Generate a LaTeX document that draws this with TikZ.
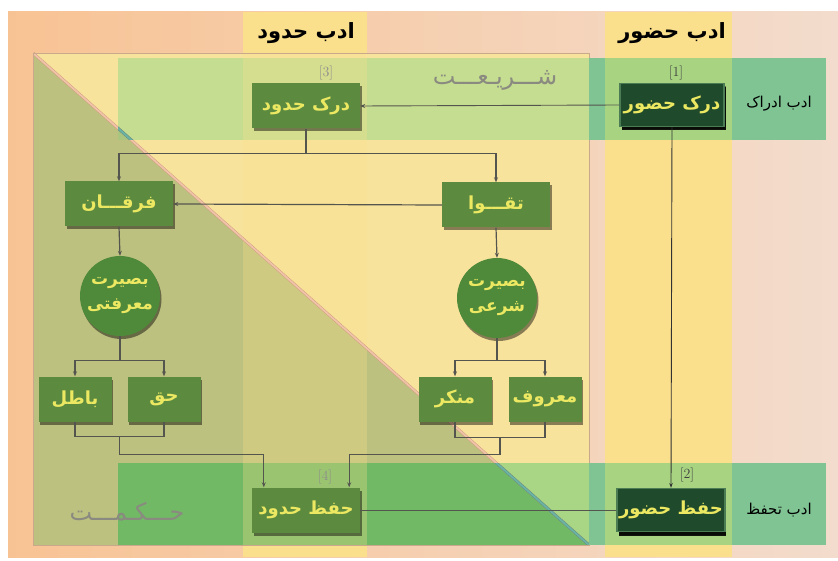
\documentclass[tikz,border=0pt]{standalone}
\usepackage{fontspec}
\newfontfamily\fa[Script=Arabic]{DejaVu Sans}
\TeXXeTstate=1
\usetikzlibrary{shadows,calc,arrows.meta}
\newcommand\pers[1]{{\fa\beginR#1\endR}}

\definecolor{peachL}{HTML}{F8C394}
\definecolor{peachR}{HTML}{F3DCCD}
\definecolor{colyel}{HTML}{FAE08C}
\definecolor{frameyel}{HTML}{F8E39C}
\definecolor{olive}{HTML}{BDC17F}
\definecolor{bandtop}{HTML}{C5DD90}
\definecolor{bandtopO}{HTML}{A9C57E}
\definecolor{bandbot}{HTML}{72B966}
\definecolor{bandbotY}{HTML}{A8D684}
\definecolor{bandout}{HTML}{80C494}
\definecolor{bandcol}{HTML}{A8D482}
\definecolor{boxgreen}{HTML}{5C8B40}
\definecolor{discgreen}{HTML}{4F8A3B}
\definecolor{boxdark}{HTML}{1F4A2C}
\definecolor{boxedge}{HTML}{4C7C54}
\definecolor{txtyel}{HTML}{ECE862}
\definecolor{linkgray}{HTML}{55554F}
\definecolor{wordgray}{HTML}{8A8A80}
\definecolor{framebrown}{HTML}{C9A88C}
\definecolor{diagpink}{HTML}{F0C4A8}
\definecolor{diagedge}{HTML}{D49C82}
\definecolor{diagteal}{HTML}{6CB4A4}

\tikzset{
  lbox/.style={fill=boxgreen, text=txtyel, font=\bfseries\fontsize{18}{20}\selectfont,
    minimum width=108pt, minimum height=45pt, inner sep=2pt,
    drop shadow={shadow xshift=1.5pt, shadow yshift=-3pt, opacity=0.45, fill=black}},
  sbox/.style={lbox, minimum width=73pt},
  dbox/.style={lbox, fill=boxdark, draw=boxedge, line width=1.2pt, minimum width=104pt,
    minimum height=43pt,
    drop shadow={shadow xshift=1.5pt, shadow yshift=-4pt, opacity=0.9, fill=black}},
  disc/.style={circle, fill=discgreen, text=txtyel, font=\bfseries\fontsize{17}{25}\selectfont,
    minimum size=80pt, inner sep=0pt, align=center,
    drop shadow={shadow xshift=1.5pt, shadow yshift=-3pt, opacity=0.45, fill=black}},
  head/.style={font=\bfseries\fontsize{21}{24}\selectfont, text=black},
  side/.style={font=\fontsize{15}{17}\selectfont, text=black},
  big/.style={font=\fontsize{24}{26}\selectfont, text=wordgray},
  tag/.style={font=\fontsize{14}{16}\selectfont, text=#1},
  link/.style={draw=linkgray, line width=1.2pt},
  arr/.style={link, -{Stealth[length=5pt,width=4pt]}},
  thin arr/.style={draw=black!80, line width=0.9pt, -{Stealth[length=5pt,width=3.5pt]}}
}

\begin{document}
\begin{tikzpicture}[x=1pt,y=-1pt]
\useasboundingbox (0,0) rectangle (838,561);
\shade[left color=peachL, right color=peachR] (8,12) rectangle (838,557);
\fill[colyel] (243,12) rectangle (367,557);
\fill[colyel] (605,12) rectangle (732,557);

\begin{scope}
\clip (33,53) rectangle (589,545);
\fill[frameyel] (33,53) -- (589,53) -- (589,545) -- cycle;
\fill[olive] (33,53) -- (33,545) -- (589,545) -- cycle;
\begin{scope}
\clip (33,53) -- (589,53) -- (589,545) -- cycle;
\fill[bandtop] (118,58) rectangle (589,140);
\fill[bandbotY] (118,463) rectangle (589,545);
\end{scope}
\begin{scope}
\clip (33,53) -- (33,545) -- (589,545) -- cycle;
\fill[bandtopO] (118,58) rectangle (589,140);
\fill[bandbot] (118,463) rectangle (589,545);
\end{scope}
\fill[colyel, opacity=0.3] (243,53) rectangle (367,545);
\draw[draw=diagedge, line width=0.5pt, double=diagpink, double distance=1.8pt] (33,53) -- (589,545);
\clip (118,58) rectangle (589,140) (118,463) rectangle (589,545);
\draw[draw=diagteal!80!black, line width=0.5pt, double=diagteal, double distance=1.8pt] (33,53) -- (589,545);
\end{scope}
\draw[framebrown, line width=0.8pt] (33,53) rectangle (589,545);

\fill[bandout] (589,58) rectangle (826,140);
\fill[bandout] (589,463) rectangle (826,545);
\fill[bandcol] (605,58) rectangle (732,140);
\fill[bandcol] (605,463) rectangle (732,545);

\node[head] (hhd) at (306,33) {\pers{ادب حدود}};
\node[head] (hhz) at (672,33) {\pers{ادب حضور}};
\node[side] (sidr) at (779,104) {\pers{ادب ادراک}};
\node[side] (sith) at (779,510) {\pers{ادب تحفظ}};
\node[big] (shar) at (495,80) {\pers{شـــریـعـــت}};
\node[big] (hekm) at (127,512) {\pers{حـــکـمـــت}};

\node[tag=black!75] (t1) at (676,73) {[1]};
\node[tag=black!75] (t2) at (687,475) {[2]};
\node[tag=black!45] (t3) at (326,73) {[3]};
\node[tag=black!45] (t4) at (325,477) {[4]};

\node[lbox] (dhodud) at (306,106) {\pers{درک حدود}};
\node[dbox] (dhozur) at (672,105) {\pers{درک حضور}};
\node[lbox] (forqan) at (119,204) {\pers{فرقـــان}};
\node[lbox] (taqva) at (496,205) {\pers{تقـــوا}};
\node[disc] (bas1) at (120,296) {\pers{بصیرت}\\\pers{معرفتی}};
\node[disc] (bas2) at (497,298) {\pers{بصیرت}\\\pers{شرعی}};
\node[sbox] (batel) at (75,399) {\pers{باطل}};
\node[sbox] (haq) at (164,399) {\pers{حق}};
\node[sbox] (monkar) at (455,399) {\pers{منکر}};
\node[sbox] (maruf) at (545,399) {\pers{معروف}};
\node[lbox] (hhodud) at (306,510) {\pers{حفظ حدود}};
\node[dbox] (hhozur) at (671,510) {\pers{حفظ حضور}};

\draw[arr, line width=0.9pt] (dhozur.west) -- (dhodud.east);
\draw[thin arr] (dhozur.south) -- (hhozur.north);
\draw[link] (dhodud.south) -- ++(0,25) coordinate (s1);
\draw[arr] (s1) -| (forqan.north);
\draw[arr] (s1) -| (taqva.north);
\draw[arr] (taqva.west) -- (forqan.east);
\draw[arr] (forqan.south) -- (bas1.north);
\draw[arr] (taqva.south) -- (bas2.north);
\draw[link] (bas1.south) -- ++(0,24) coordinate (s2);
\draw[arr] (s2) -| (batel.north);
\draw[arr] (s2) -| (haq.north);
\draw[link] (bas2.south) -- ++(0,22) coordinate (s3);
\draw[arr] (s3) -| (monkar.north);
\draw[arr] (s3) -| (maruf.north);
\draw[link] (batel.south) -- ++(0,15) coordinate (j1) -| (haq.south);
\draw[arr] ($(j1)!0.5!(j1 -| haq.south)$) -- ++(0,18) -| ([xshift=12pt]hhodud.north west);
\draw[link] (monkar.south) -- ++(0,16) coordinate (j2) -| (maruf.south);
\draw[arr] ($(j2)!0.5!(j2 -| maruf.south)$) -- ++(0,17) -| ([xshift=-11pt]hhodud.north east);
\draw[link, line width=0.9pt] (hhozur.west) -- (hhodud.east);
\end{tikzpicture}
\end{document}
